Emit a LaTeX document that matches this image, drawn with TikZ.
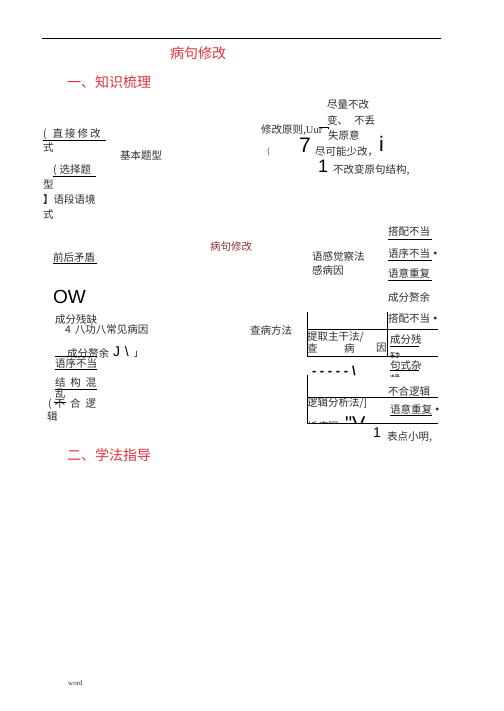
\documentclass[tikz,border=0pt]{standalone}
\usepackage{fontspec}
\setmainfont{Noto Sans CJK SC}
\newfontfamily\latinsans{Liberation Sans}
\newfontfamily\latinserif{Liberation Serif}
\newfontfamily\cjkfam{Noto Sans CJK SC}
\definecolor{hred}{RGB}{226,50,64}
\definecolor{dred}{RGB}{140,52,52}
\definecolor{txt}{RGB}{45,45,45}
\tikzset{
  t/.style={inner sep=0pt, outer sep=0pt, anchor=west, text=txt, font=\fontsize{10.5}{12}\selectfont},
  head/.style={t, text=hred, font=\fontsize{14}{16}\selectfont},
  big/.style={inner sep=0pt, outer sep=0pt, anchor=north west, text=black, font=\latinsans\fontsize{#1}{#1}\selectfont},
  rule/.style={draw=black, line width=0.9pt},
  uline/.style={draw=black, line width=0.8pt}
}
\begin{document}
\begin{tikzpicture}[x=1pt,y=-1pt]
\useasboundingbox[fill=white] (0,0) rectangle (503,711);
% top rule
\coordinate (r1a) at (42,38); \coordinate (r1b) at (441,38);
\draw[rule] (r1a) -- (r1b);
% headings
\node[head] (title) at (170,53) {病句修改};
\node[head] (h1) at (67,82) {一、知识梳理};
\node[head] (h2) at (67,455) {二、学法指导};
% left column
\node[t] (a1) at (43,134) {(\hspace{6pt}直\hspace{2pt}接\hspace{2pt}修\hspace{2pt}改};
\coordinate (u1a) at (43,140); \coordinate (u1b) at (106,140);
\draw[uline] (u1a) -- (u1b);
\node[t] (a2) at (43,148) {式};
\node[t] (b1) at (53,170) {(\hspace{3pt}选择题};
\coordinate (u2a) at (53,176); \coordinate (u2b) at (96,176);
\draw[uline] (u2a) -- (u2b);
\node[t] (b2) at (43,184) {型};
\node[t] (c1) at (43,200) {\textbf{】}语段语境};
\node[t] (c2) at (43,215) {式};
\node[t] (basic) at (120,156) {基本题型};
% principle block
\node[t] (p1) at (327,105) {尽量不改};
\node[t] (p2) at (327,120) {变、\hspace{6pt}不丢};
\node[t] (p3) at (261,130) {修改原则,\latinserif Uur};
\coordinate (p3a) at (319,127); \coordinate (p3b) at (328,127);
\draw[line width=0.6pt] (p3a) -- (p3b) -- ++(0,2);
\node[t] (p4) at (328,135) {失原意};
\node[t, font=\fontsize{8}{9}\selectfont] (p5) at (267,152) {(};
\node[big=21] (seven) at (299,138) {7};
\node[t] (p6) at (315,152) {尽可能少改，};
\node[big=21] (ii) at (379,136) {i};
\node[big=18] (one1) at (318,160) {1};
\node[t] (p7) at (333,170) {不改变原句结构,};
% middle area
\node[t] (qh) at (53,257) {前后矛盾};
\coordinate (u3a) at (53,263); \coordinate (u3b) at (97,263);
\draw[uline] (u3a) -- (u3b);
\node[t, text=dred] (mid) at (210,247) {病句修改};
\node[big=19] (ow) at (53,290) {OW};
\node[t] (cq) at (55,320) {成分残缺};
\node[t] (six) at (65,330) {4\hspace{4pt}八功八常见病因};
\node[t] (chaf) at (250,330) {查病方法};
\node[t] (yg1) at (312,257) {语感觉察法};
\node[t] (yg2) at (312,270) {感病因};
% right list upper
\node[t] (r1) at (388,232) {搭配不当};
\coordinate (u4a) at (388,239); \coordinate (u4b) at (432,239);
\draw[uline] (u4a) -- (u4b);
\node[t] (r2) at (388,253) {语序不当\textbf{·}};
\coordinate (u5a) at (388,260); \coordinate (u5b) at (432,260);
\draw[uline] (u5a) -- (u5b);
\node[t] (r3) at (388,273) {语意重复};
\coordinate (u6a) at (388,280); \coordinate (u6b) at (432,280);
\draw[uline] (u6a) -- (u6b);
\node[t] (r4) at (388,297) {成分赘余};
% left lower list
\node[t] (l1) at (67,353) {成分赘余};
\node[big=14] (jj) at (113,346) {J\hspace{5pt}\textbackslash\hspace{5pt}{\cjkfam\fontsize{9}{9}\selectfont 」}};
\coordinate (u7a) at (55,356); \coordinate (u7b) at (97,356);
\draw[uline] (u7a) -- (u7b);
\node[t] (l2) at (55,363) {语序不当};
\coordinate (u8a) at (55,369); \coordinate (u8b) at (97,369);
\draw[uline] (u8a) -- (u8b);
\node[t] (l3) at (55,383) {结\hspace{5pt}构\hspace{5pt}混};
\coordinate (u9a) at (55,389); \coordinate (u9b) at (97,389);
\draw[uline] (u9a) -- (u9b);
\node[t] (l4) at (55,393) {乱};
\node[t] (l5) at (48,404) {(\hspace{3pt}不\hspace{5pt}合\hspace{5pt}逻};
\coordinate (u10a) at (54,402); \coordinate (u10b) at (66,402);
\draw[uline] (u10a) -- (u10b);
\node[t] (l6) at (47,417) {辑};
% table upper
\coordinate (ta) at (307,312); \coordinate (tb) at (307,356);
\coordinate (tc) at (387,312); \coordinate (td) at (387,356);
\coordinate (te) at (307,329); \coordinate (tf) at (438,329);
\coordinate (tg) at (438,356);
\draw[rule] (ta) -- (tb);
\draw[rule] (tc) -- (td);
\draw[rule] (te) -- (tf);
\draw[rule] (tb) -- (tg);
\node[t] (k1) at (388,319) {搭配不当\textbf{·}};
\node[t] (k2) at (307,337) {提取主干法/};
\node[t] (k3a) at (307,348) {查};
\node[t] (k3b) at (344,348) {病};
\node[t] (k3c) at (376,348) {因};
\node[t] (k4) at (390,340) {成分残};
\coordinate (u11a) at (390,346); \coordinate (u11b) at (419,346);
\draw[uline] (u11a) -- (u11b);
\begin{scope}
\clip (385,352) rectangle (420,357.5);
\node[t] (k5) at (390,356) {缺};
\end{scope}
\node[t] (k6) at (390,365.5) {句式杂};
\coordinate (u12a) at (390,370.5); \coordinate (u12b) at (419,370.5);
\draw[uline] (u12a) -- (u12b);
\begin{scope}
\clip (385,373) rectangle (420,376.5);
\node[t] (k7) at (390,380) {糅};
\end{scope}
\node[big=13, font=\latinsans\bfseries\fontsize{13}{13}\selectfont] (dash) at (312,366) {- - - - -\hspace{4pt}\textbackslash};
% table lower
\coordinate (la) at (307,375); \coordinate (lb) at (307,423);
\coordinate (lc) at (307,397); \coordinate (ld) at (438,397);
\coordinate (le) at (438,423);
\draw[rule] (la) -- (lb);
\draw[rule] (lc) -- (ld);
\draw[rule] (lb) -- (le);
\node[t] (m1) at (388,391) {不合逻辑};
\node[t] (m2) at (307,403) {逻辑分析法/]};
\node[t] (m3) at (390,409) {语意重复\textbf{·}};
\coordinate (u13a) at (390,415); \coordinate (u13b) at (432,415);
\draw[uline] (u13a) -- (u13b);
\begin{scope}
\clip (300,416) rectangle (440,423);
\node[t] (m4) at (307,426) {析病因};
\node[big=20] (vv) at (345,417) {"V};
\end{scope}
\node[big=14] (one2) at (373,428) {1};
\node[t] (m5) at (387,437) {表点小明,};
% footer
\node[inner sep=0pt, anchor=west, text=txt, font=\latinserif\fontsize{7}{8}\selectfont] (word) at (68,683) {word};
\end{tikzpicture}
\end{document}
